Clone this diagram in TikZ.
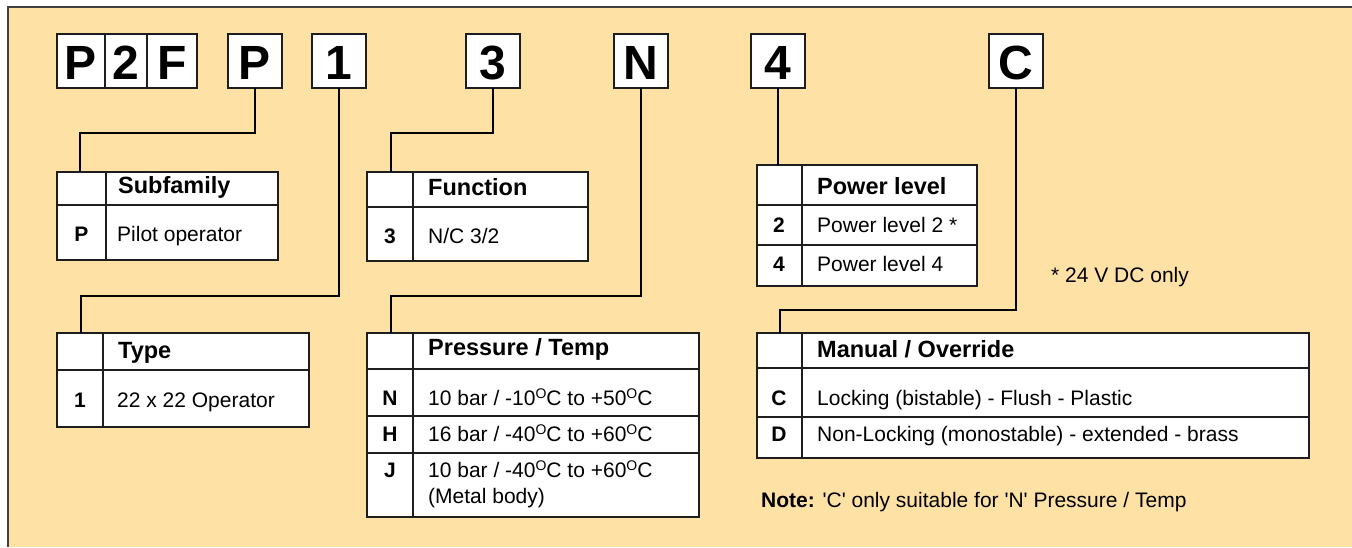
\documentclass[tikz,border=0pt]{standalone}
\usepackage{fontspec}
\usetikzlibrary{calc}
\setmainfont{Liberation Sans}
\definecolor{bgcol}{RGB}{254,225,164}
\definecolor{linecol}{RGB}{30,30,30}
\begin{document}
\begin{tikzpicture}[x=1pt,y=-1pt,
  cell/.style={draw=linecol, line width=1.3pt, fill=white, anchor=north west, inner sep=0pt, outer sep=0pt},
  letterbox/.style={draw=linecol, line width=1.4pt, fill=white, anchor=north west, inner sep=0pt, outer sep=0pt, minimum height=54pt, font=\fontsize{48}{52}\selectfont\bfseries},
  conn/.style={draw=black, line width=2.6pt},
  hd/.style={anchor=base west, inner sep=0pt, font=\fontsize{23.5}{27}\selectfont\bfseries},
  key/.style={anchor=base, inner sep=0pt, font=\fontsize{21}{25}\selectfont\bfseries},
  txt/.style={anchor=base west, inner sep=0pt, font=\fontsize{21}{25}\selectfont}]
\newcommand{\dg}{\raisebox{0.6ex}{\fontsize{14}{15}\selectfont O}}
\newcommand{\sq}{\textquotesingle}
\useasboundingbox (0,0) rectangle (1352,547);
\fill[bgcol] (8,7) rectangle (1352,547);
\draw[line width=1.5pt, draw=black!75] (8,547) -- (8,7) -- (1352,7);

% top letter boxes
\node[letterbox, minimum width=48pt] (lP1) at (57,34) {};
\node[letterbox, minimum width=42pt] (l2) at (105,34) {};
\node[letterbox, minimum width=50pt] (lF) at (147,34) {};
\node[letterbox, minimum width=54pt] (bP) at (228,34) {};
\node[letterbox, minimum width=54pt] (b1) at (312,34) {};
\node[letterbox, minimum width=54pt] (b3) at (466,34) {};
\node[letterbox, minimum width=54pt] (bN) at (614,34) {};
\node[letterbox, minimum width=54pt] (b4) at (751,34) {};
\node[letterbox, minimum width=54pt] (bC) at (989,34) {};
\foreach \n/\t in {lP1/P, l2/2, lF/F, bP/P, b1/1, b3/3, bN/N, b4/4, bC/C}
  \node[anchor=base, inner sep=0pt, font=\fontsize{48}{52}\selectfont\bfseries] (\n-t) at ($(\n.north)+(0,45)$) {\t};

% Subfamily table
\node[cell, minimum width=49pt, minimum height=33pt] (sfk0) at (57,172) {};
\node[cell, minimum width=172pt, minimum height=33pt] (sfh) at (106,172) {};
\node[cell, minimum width=49pt, minimum height=55pt] (sfk1) at (57,205) {};
\node[cell, minimum width=172pt, minimum height=55pt] (sft1) at (106,205) {};
\node[hd] (sfhT) at (118,193) {Subfamily};
\node[key] (sfk1T) at (81.5,241) {P};
\node[txt] (sft1T) at (117,241) {Pilot operator};

% Type table
\node[cell, minimum width=46pt, minimum height=37pt] (tyk0) at (57,333) {};
\node[cell, minimum width=206pt, minimum height=37pt] (tyh) at (103,333) {};
\node[cell, minimum width=46pt, minimum height=57pt] (tyk1) at (57,370) {};
\node[cell, minimum width=206pt, minimum height=57pt] (tyt1) at (103,370) {};
\node[hd] (tyhT) at (118,358) {Type};
\node[key] (tyk1T) at (80,407) {1};
\node[txt] (tyt1T) at (117,407) {22 x 22 Operator};

% Function table
\node[cell, minimum width=46pt, minimum height=35pt] (fnk0) at (367,172) {};
\node[cell, minimum width=175pt, minimum height=35pt] (fnh) at (413,172) {};
\node[cell, minimum width=46pt, minimum height=54pt] (fnk1) at (367,207) {};
\node[cell, minimum width=175pt, minimum height=54pt] (fnt1) at (413,207) {};
\node[hd] (fnhT) at (428,195) {Function};
\node[key] (fnk1T) at (390,243) {3};
\node[txt] (fnt1T) at (428,243) {N/C 3/2};

% Pressure / Temp table
\node[cell, minimum width=46pt, minimum height=36pt] (prk0) at (367,333) {};
\node[cell, minimum width=286pt, minimum height=36pt] (prh) at (413,333) {};
\node[cell, minimum width=46pt, minimum height=47pt] (prk1) at (367,369) {};
\node[cell, minimum width=286pt, minimum height=47pt] (prt1) at (413,369) {};
\node[cell, minimum width=46pt, minimum height=37pt] (prk2) at (367,416) {};
\node[cell, minimum width=286pt, minimum height=37pt] (prt2) at (413,416) {};
\node[cell, minimum width=46pt, minimum height=64pt] (prk3) at (367,453) {};
\node[cell, minimum width=286pt, minimum height=64pt] (prt3) at (413,453) {};
\node[hd] (prhT) at (428,355) {Pressure / Temp};
\node[key] (prk1T) at (390,405) {N};
\node[txt] (prt1T) at (428,405) {10 bar / -10\dg C to +50\dg C};
\node[key] (prk2T) at (390,441) {H};
\node[txt] (prt2T) at (428,441) {16 bar / -40\dg C to +60\dg C};
\node[key] (prk3T) at (390,477) {J};
\node[txt] (prt3T) at (428,477) {10 bar / -40\dg C to +60\dg C};
\node[txt] (prt3U) at (428,503) {(Metal body)};

% Power level table
\node[cell, minimum width=45pt, minimum height=40pt] (pwk0) at (757,165) {};
\node[cell, minimum width=175pt, minimum height=40pt] (pwh) at (802,165) {};
\node[cell, minimum width=45pt, minimum height=40pt] (pwk1) at (757,205) {};
\node[cell, minimum width=175pt, minimum height=40pt] (pwt1) at (802,205) {};
\node[cell, minimum width=45pt, minimum height=41pt] (pwk2) at (757,245) {};
\node[cell, minimum width=175pt, minimum height=41pt] (pwt2) at (802,245) {};
\node[hd] (pwhT) at (817,194) {Power level};
\node[key] (pwk1T) at (779,232) {2};
\node[txt] (pwt1T) at (817,232) {Power level 2 *};
\node[key] (pwk2T) at (779,271) {4};
\node[txt] (pwt2T) at (817,271) {Power level 4};

% Manual / Override table
\node[cell, minimum width=45pt, minimum height=35pt] (mok0) at (757,333) {};
\node[cell, minimum width=507pt, minimum height=35pt] (moh) at (802,333) {};
\node[cell, minimum width=45pt, minimum height=49pt] (mok1) at (757,368) {};
\node[cell, minimum width=507pt, minimum height=49pt] (mot1) at (802,368) {};
\node[cell, minimum width=45pt, minimum height=41pt] (mok2) at (757,417) {};
\node[cell, minimum width=507pt, minimum height=41pt] (mot2) at (802,417) {};
\node[hd] (mohT) at (817,357) {Manual / Override};
\node[key] (mok1T) at (779,405) {C};
\node[txt] (mot1T) at (817,405) {Locking (bistable) - Flush - Plastic};
\node[key] (mok2T) at (779,441) {D};
\node[txt] (mot2T) at (817,441) {Non-Locking (monostable) - extended - brass};

% notes
\node[txt] (star) at (1051,282) {* 24 V DC only};
\node[txt] (note) at (761,507) {\textbf{Note:} \sq C\sq{} only suitable for \sq N\sq{} Pressure / Temp};

% connectors
\coordinate (cP) at (80,133);
\coordinate (c1) at (81,296);
\coordinate (c3) at (391,133);
\coordinate (cN) at (391,296);
\coordinate (cC) at (780,310);
\draw[conn] (bP.south) |- (cP) -- (cP |- sfk0.north);
\draw[conn] (b1.south) |- (c1) -- (c1 |- tyk0.north);
\draw[conn] (b3.south) |- (c3) -- (c3 |- fnk0.north);
\draw[conn] (bN.south) |- (cN) -- (cN |- prk0.north);
\draw[conn] (b4.south) -- (b4.south |- pwk0.north);
\draw[conn] (bC.south) |- (cC) -- (cC |- mok0.north);
\end{tikzpicture}
\end{document}
